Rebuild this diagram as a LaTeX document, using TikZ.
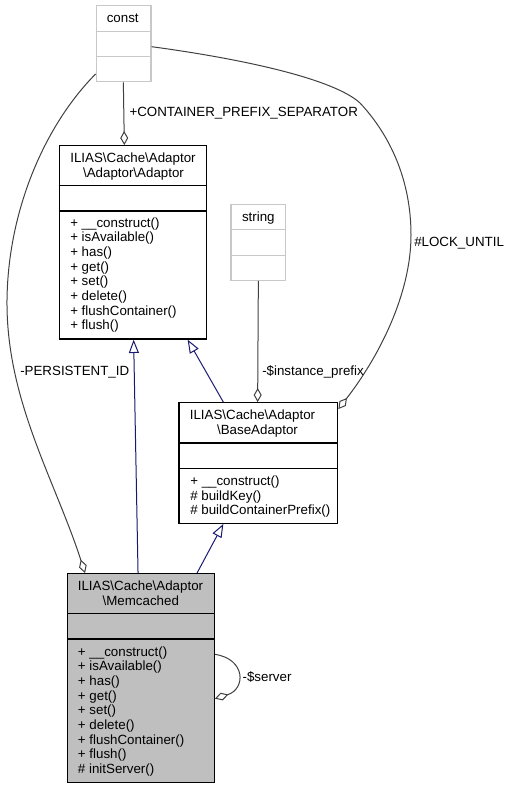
\documentclass[tikz,border=0pt]{standalone}
\usepackage{fontspec}
\setmainfont{Liberation Sans}
\usetikzlibrary{arrows.meta,calc,fit}
\definecolor{boxgray}{RGB}{191,191,191}
\definecolor{litegray}{RGB}{200,200,200}
\definecolor{edgegray}{RGB}{64,64,64}
\definecolor{inhblue}{RGB}{25,25,112}
\tikzset{
  classbox/.style={draw=black,line width=1pt,inner sep=0pt},
  extbox/.style={draw=litegray,line width=1pt,inner sep=0pt},
  txt/.style={inner sep=0pt,font=\fontsize{10}{11}\selectfont},
  assoc/.style={draw=edgegray,line width=0.75pt,-{Diamond[fill=white,length=10.5pt,width=6pt]}},
  inherit/.style={draw=inhblue,line width=0.75pt,-{Triangle[fill=white,length=10pt,width=7.5pt]}},
}
\begin{document}
\begin{tikzpicture}[x=0.75pt,y=-0.75pt]
\useasboundingbox (0,0) rectangle (509,788);
% boxes
\node[extbox,fit={(96.3,5.7) (151,81.7)}] (constbox) {};
\node[classbox,fit={(59.3,145.7) (206.3,339)}] (adaptor) {};
\node[extbox,fit={(231,204.3) (285.7,280.3)}] (strbox) {};
\node[classbox,fit={(179,402.7) (337.7,523.3)}] (base) {};
\node[classbox,fill=boxgray,fit={(67.7,573.7) (214.3,782.3)}] (memc) {};
% dividers
\draw[litegray,line width=1pt] (constbox.west |- 0,31.7) -- (constbox.east |- 0,31.7)
  (constbox.west |- 0,56.7) -- (constbox.east |- 0,56.7);
\draw[litegray,line width=1pt] (strbox.west |- 0,229.7) -- (strbox.east |- 0,229.7)
  (strbox.west |- 0,255.3) -- (strbox.east |- 0,255.3);
\draw[line width=1pt] (adaptor.west |- 0,185.7) -- (adaptor.east |- 0,185.7)
  (adaptor.west |- 0,211) -- (adaptor.east |- 0,211);
\draw[line width=1pt] (base.west |- 0,443) -- (base.east |- 0,443)
  (base.west |- 0,468.3) -- (base.east |- 0,468.3);
\draw[line width=1pt] (memc.west |- 0,613.7) -- (memc.east |- 0,613.7)
  (memc.west |- 0,639) -- (memc.east |- 0,639);
% titles
\node[txt,anchor=base] (tconst) at (122.7,22.5) {const};
\node[txt,anchor=base] (tstr) at (258.3,221.8) {string};
\node[txt,anchor=base] (ta1) at (133,162.3) {ILIAS\textbackslash Cache\textbackslash Adaptor};
\node[txt,anchor=base] (ta2) at (133.5,177) {\textbackslash Adaptor\textbackslash Adaptor};
\node[txt,anchor=base] (tb1) at (252.5,419.3) {ILIAS\textbackslash Cache\textbackslash Adaptor};
\node[txt,anchor=base] (tb2) at (257.5,434.3) {\textbackslash BaseAdaptor};
\node[txt,anchor=base] (tm1) at (140.5,590.3) {ILIAS\textbackslash Cache\textbackslash Adaptor};
\node[txt,anchor=base] (tm2) at (140.8,605) {\textbackslash Memcached};
% methods
\foreach \t [count=\i] in {+ \_\_construct(),+ isAvailable(),+ has(),+ get(),+ set(),+ delete(),+ flushContainer(),+ flush()}
  \node[txt,anchor=base west] (am\i) at (70,{227+(\i-1)*14.67}) {\t};
\foreach \t [count=\i] in {+ \_\_construct(),\# buildKey(),\# buildContainerPrefix()}
  \node[txt,anchor=base west] (bm\i) at (190,{485.5+(\i-1)*14.5}) {\t};
\foreach \t [count=\i] in {+ \_\_construct(),+ isAvailable(),+ has(),+ get(),+ set(),+ delete(),+ flushContainer(),+ flush(),\# initServer()}
  \node[txt,anchor=base west] (mm\i) at (77.7,{656+(\i-1)*14.67}) {\t};
% inheritance
\draw[inherit] ($(memc.north west)+(71,0)$) -- ($(adaptor.south west)+(75,0)$);
\draw[inherit] ($(base.north west)+(45,0)$) -- ($(adaptor.south west)+(129,0)$);
\draw[inherit] ($(memc.north west)+(130,0)$) -- ($(base.south west)+(45,0)$);
% associations
\draw[assoc] ($(constbox.south west)+(27.7,0)$) -- ($(adaptor.north west)+(65.7,0)$);
\node[txt,anchor=base west] (l1) at (129.3,117) {+CONTAINER\_PREFIX\_SEPARATOR};
\draw[assoc] ($(constbox.south west)+(0,-8.4)$) .. controls (45,125) and (8,210) .. (7,300)
  .. controls (6,400) and (55,480) .. ($(memc.north west)+(18,0)$);
\node[txt,anchor=base west] (l2) at (20,375) {-PERSISTENT\_ID};
\draw[assoc] ($(constbox.east)+(0,3)$) .. controls (250,60) and (335,80) .. (360,103)
  .. controls (390,135) and (411,180) .. (411,235)
  .. controls (411,295) and (378,358) .. ($(base.north east)+(0,7)$);
\node[txt,anchor=base west] (l3) at (414,246) {\#LOCK\_UNTIL};
\draw[assoc] (strbox.south) -- ($(base.north west)+(79.3,0)$);
\node[txt,anchor=base west] (l4) at (262,375) {-\$instance\_prefix};
\draw[assoc] ($(memc.north east)+(0,81.3)$) .. controls ($(memc.north east)+(31,86)$) and ($(memc.north east)+(31,116)$) .. ($(memc.north east)+(0,125.6)$);
\node[txt,anchor=base west] (l5) at (242.3,681.5) {-\$server};
\end{tikzpicture}
\end{document}
